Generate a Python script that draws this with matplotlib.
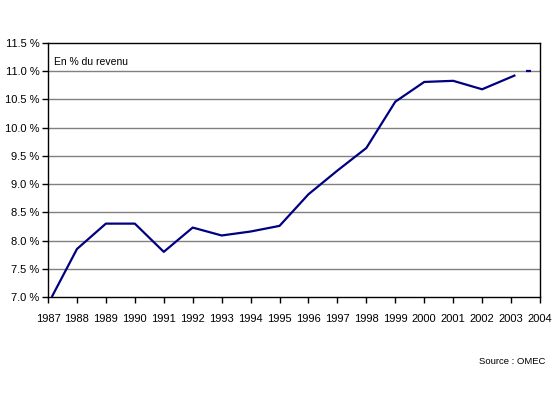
import matplotlib
matplotlib.use("Agg")
import matplotlib.pyplot as plt
from matplotlib.ticker import FuncFormatter
import numpy as np

plt.rcParams['font.family'] = ['Liberation Sans', 'DejaVu Sans']

# savings ratio, share of income (%)
years = [1987.13, 1988, 1989, 1990, 1991, 1992, 1993, 1994, 1995, 1996,
         1997, 1998, 1999, 2000, 2001, 2002, 2003.15]
values = [7.0, 7.85, 8.30, 8.30, 7.80, 8.23, 8.09, 8.16, 8.26, 8.82,
          9.24, 9.64, 10.46, 10.81, 10.83, 10.68, 10.93]
# short separate segment near the end
tail_years = [2003.5, 2003.68]
tail_values = [11.0, 11.0]

year_ticks = list(range(1987, 2005))
y_ticks = np.arange(7.0, 11.51, 0.5)

fig = plt.figure(figsize=(5.59, 3.98), dpi=100)
ax = fig.add_axes([48 / 559, 1 - 297 / 398, (540 - 48) / 559, (297 - 43) / 398])

ax.plot(years, values, color='#000080', lw=1.6, solid_capstyle='butt')
ax.plot(tail_years, tail_values, color='#000080', lw=1.6, solid_capstyle='butt')

ax.set_xlim(1987, 2004)
ax.set_ylim(7.0, 11.5)
ax.set_xticks(year_ticks)
ax.set_xticklabels([str(y) for y in year_ticks])
ax.set_yticks(y_ticks)
ax.yaxis.set_major_formatter(FuncFormatter(lambda v, p: f"{v:.1f} %"))

for v in y_ticks[1:-1]:
    ax.axhline(v, color='#808080', lw=1, zorder=0)

for s in ax.spines.values():
    s.set_color('black')
    s.set_linewidth(1)

ax.tick_params(axis='both', direction='out', length=4, width=1, colors='black',
               labelsize=8)
ax.tick_params(axis='y', pad=2)
ax.tick_params(axis='x', pad=8)

ax.text(0.012, 0.945, "En % du revenu", transform=ax.transAxes,
        fontsize=7.5, va='top', ha='left')
fig.text(545 / 559, 1 - 361 / 398, "Source : OMEC", fontsize=6.8,
         ha='right', va='center')

fig.savefig("out.png", dpi=100, facecolor='white')
